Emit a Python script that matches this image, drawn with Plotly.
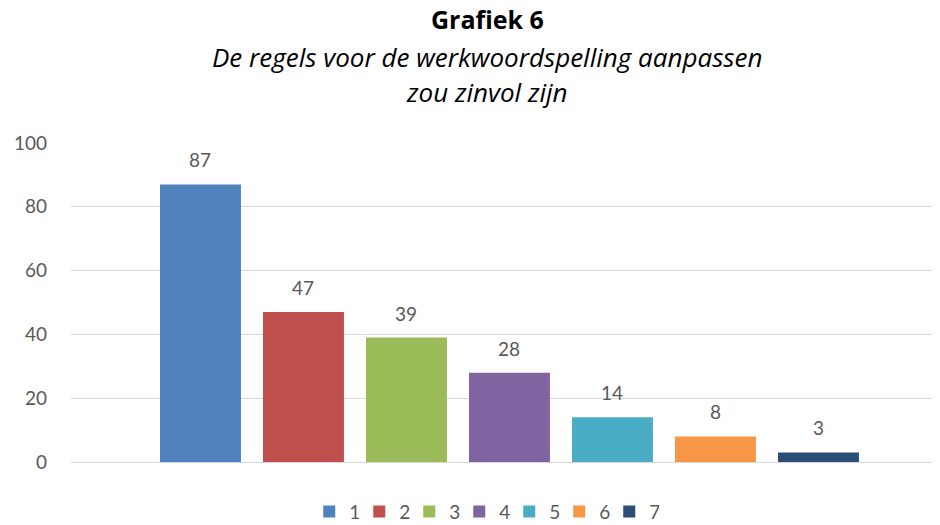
import plotly.graph_objects as go

# antwoordcategorie (1 = helemaal mee eens ... 7 = helemaal mee oneens)
categories = ["1", "2", "3", "4", "5", "6", "7"]
values = [87, 47, 39, 28, 14, 8, 3]
colors = ["#4F81BD", "#C0504D", "#9BBB59", "#8064A2", "#4BACC6", "#F79646", "#2C4D75"]
y_ticks = [0, 20, 40, 60, 80, 100]

FONT = "Lato, Calibri, Carlito, sans-serif"
TFONT = "Open Sans, Calibri, sans-serif"
GREY = "#595959"

fig = go.Figure()
for i, (cat, val, col) in enumerate(zip(categories, values, colors)):
    fig.add_trace(go.Bar(
        x=[cat], y=[val], name=cat,
        marker=dict(color=col, line=dict(width=0)),
        cliponaxis=False,
    ))
    # datalabel boven de staaf (x als index op de categorie-as)
    fig.add_annotation(x=i, y=val, text=str(val), showarrow=False,
                       yanchor="bottom", yshift=11,
                       font=dict(family=FONT, size=19, color=GREY))

# titel (drie regels)
fig.add_annotation(text="<b>Grafiek 6</b>", xref="paper", yref="paper",
                   x=0.479, y=1.388, showarrow=False, yanchor="middle",
                   font=dict(family=TFONT, size=25, color="black"))
fig.add_annotation(text="<i>De regels voor de werkwoordspelling aanpassen</i>",
                   xref="paper", yref="paper", x=0.479, y=1.270, showarrow=False,
                   yanchor="middle", font=dict(family=TFONT, size=26, color="black"))
fig.add_annotation(text="<i>zou zinvol zijn</i>", xref="paper", yref="paper",
                   x=0.479, y=1.160, showarrow=False, yanchor="middle",
                   font=dict(family=TFONT, size=26, color="black"))

# de pagina heeft 8px body-marge, dus figuur iets kleiner dan het venster
fig.update_layout(
    width=932, height=517,
    paper_bgcolor="white", plot_bgcolor="white",
    margin=dict(l=63, r=0, t=135, b=63, autoexpand=False),
    barmode="relative",
    bargap=0.214,
    font=dict(family=FONT, color=GREY),
    showlegend=True,
    xaxis=dict(type="category", showticklabels=False, showgrid=False,
               zeroline=False, range=[-1.257, 7.18]),
    yaxis=dict(range=[0, 100], tickvals=y_ticks, showgrid=True,
               gridcolor="#D9D9D9", gridwidth=1.3, zeroline=True,
               zerolinecolor="#D9D9D9", zerolinewidth=1.3,
               tickfont=dict(family=FONT, size=19, color=GREY),
               ticks="", ticklabelstandoff=23),
    legend=dict(orientation="h", x=0.511, xanchor="center", xref="container",
                y=0.026, yanchor="middle", yref="container",
                font=dict(family=FONT, size=19, color=GREY),
                itemwidth=30, entrywidth=5, traceorder="normal"),
)

fig.write_html("out.html")
